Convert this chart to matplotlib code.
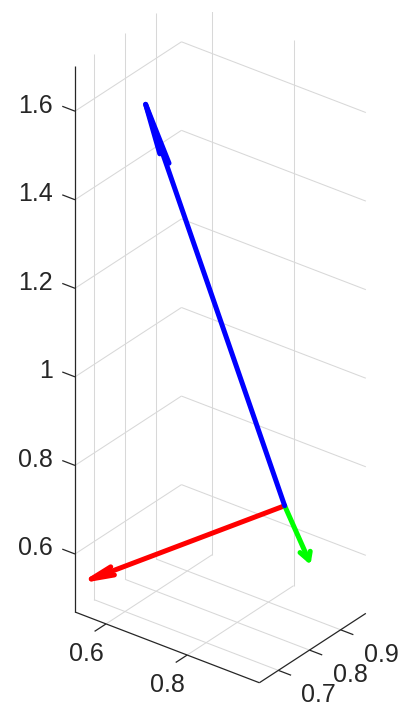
import numpy as np
import matplotlib
matplotlib.use("Agg")
import matplotlib.pyplot as plt

# ---------------- data ----------------
origin = [0.794, 0.960, 0.657]
arrow_u = [-0.248, 0.153, -0.134]
arrow_v = [-0.298, -0.122, -0.272]
arrow_w = [-0.116, -0.013, 0.984]
arrow_colors = ["#ff0000", "#00ff00", "#0000ff"]
head_ratio = [0.11, 0.15, 0.135]
head_width = [0.38, 0.35, 0.5]

x_limits = [0.5235, 0.978]
y_limits = [0.639, 0.981]
z_limits = [0.469, 1.702]
x_ticks = [0.6, 0.8]
y_ticks = [0.7, 0.8, 0.9]
z_ticks = [0.6, 0.8, 1.0, 1.2, 1.4, 1.6]
x_ticklabels = ["0.6", "0.8"]
y_ticklabels = ["0.7", "0.8", "0.9"]
z_ticklabels = ["0.6", "0.8", "1", "1.2", "1.4", "1.6"]

# ---------------- figure ----------------
W, H = 403, 709
fig = plt.figure(figsize=(W / 100, H / 100), dpi=100)
fig.patch.set_facecolor("white")
ax = fig.add_axes([0, 0, 1, 1], projection="3d", proj_type="ortho")
ax.computed_zorder = False


def set_square(center, side):
    ax.set_position([(center[0] - side / 2) / W, (center[1] - side / 2) / H,
                     side / W, side / H])


c0 = np.array([220.0, H - 374.0])
S0 = 700.0
set_square(c0, S0)
ax.view_init(elev=30, azim=-52.5)
ax.set_xlim(x_limits)
ax.set_ylim(y_limits)
ax.set_zlim(z_limits)
xr = x_limits[1] - x_limits[0]
yr = y_limits[1] - y_limits[0]
zr = z_limits[1] - z_limits[0]
ax.set_box_aspect((xr, yr, zr))
ax.set_axis_off()


def to_2d(x, y, z):
    M = ax.get_proj()
    v = M @ np.array([x, y, z, 1.0])
    return v[0] / v[3], v[1] / v[3]


def to_px(x, y, z):
    return ax.transData.transform(to_2d(x, y, z))


# calibrate the axes square so that the box lands where the reference has it
fig.canvas.draw()
x0, x1 = x_limits
y0, y1 = y_limits
z0, z1 = z_limits
A = to_px(x0, y0, z0)
T = to_px(x0, y0, z1)
k = (643.0 - 97.0) / (T[1] - A[1])
A_target = np.array([75.0, 97.0])
c1 = A_target - k * (A - c0)
set_square(c1, S0 * k)
fig.canvas.draw()

grid_kw = dict(color="#d8d8d8", lw=0.75, zorder=1, solid_capstyle="butt")
# wall x = xmin
for yv in y_ticks:
    ax.plot([x0, x0], [yv, yv], [z0, z1], **grid_kw)
for zv in z_ticks:
    ax.plot([x0, x0], [y0, y1], [zv, zv], **grid_kw)
# wall y = ymax
for xv in x_ticks:
    ax.plot([xv, xv], [y1, y1], [z0, z1], **grid_kw)
for zv in z_ticks:
    ax.plot([x0, x1], [y1, y1], [zv, zv], **grid_kw)
# floor z = zmin
for xv in x_ticks:
    ax.plot([xv, xv], [y0, y1], [z0, z0], **grid_kw)
for yv in y_ticks:
    ax.plot([x0, x1], [yv, yv], [z0, z0], **grid_kw)

axis_kw = dict(color="#262626", lw=0.9, zorder=2, solid_capstyle="butt")
ax.plot([x0, x1], [y0, y0], [z0, z0], **axis_kw)
ax.plot([x1, x1], [y0, y1], [z0, z0], **axis_kw)
ax.plot([x0, x0], [y0, y0], [z0, z1], **axis_kw)

tl_x = 0.0368
tl_yz = 0.0314
for xv in x_ticks:
    ax.plot([xv, xv], [y0, y0 - tl_x], [z0, z0], **axis_kw)
for yv in y_ticks:
    ax.plot([x1, x1 + tl_yz], [yv, yv], [z0, z0], **axis_kw)
for zv in z_ticks:
    ax.plot([x0, x0 - tl_yz], [y0, y0], [zv, zv], **axis_kw)

font = dict(family=["Liberation Sans", "DejaVu Sans"], size=18, color="#262626")
for xv, s in zip(x_ticks, x_ticklabels):
    ax.annotate(s, xy=to_2d(xv, y0, z0), xycoords="data", xytext=(-20, -37),
                textcoords="offset pixels", ha="center", va="baseline",
                annotation_clip=False, **font)
for yv, s in zip(y_ticks, y_ticklabels):
    ax.annotate(s, xy=to_2d(x1, yv, z0), xycoords="data", xytext=(40.5, -32),
                textcoords="offset pixels", ha="center", va="baseline",
                annotation_clip=False, **font)
for zv, s in zip(z_ticks, z_ticklabels):
    ax.annotate(s, xy=to_2d(x0, y0, zv), xycoords="data", xytext=(-22, -1.5),
                textcoords="offset pixels", ha="right", va="baseline",
                annotation_clip=False, **font)

# arrows (MATLAB quiver3-style heads)
px, py, pz = origin
for i, (u, v, w, col, a, b) in enumerate(zip(arrow_u, arrow_v, arrow_w,
                                              arrow_colors, head_ratio,
                                              head_width)):
    tip = np.array([px + u, py + v, pz + w])
    lw = 3.6
    ax.plot([px, tip[0]], [py, tip[1]], [pz, tip[2]], color=col, lw=lw,
            solid_capstyle="round", solid_joinstyle="round", zorder=3 + i)
    w1 = tip - a * np.array([u + b * v, v - b * u, w])
    w2 = tip - a * np.array([u - b * v, v + b * u, w])
    ax.plot([w1[0], tip[0], w2[0]], [w1[1], tip[1], w2[1]],
            [w1[2], tip[2], w2[2]], color=col, lw=lw,
            solid_capstyle="round", solid_joinstyle="round", zorder=3 + i)

fig.savefig("out.png", dpi=100, facecolor="white")
